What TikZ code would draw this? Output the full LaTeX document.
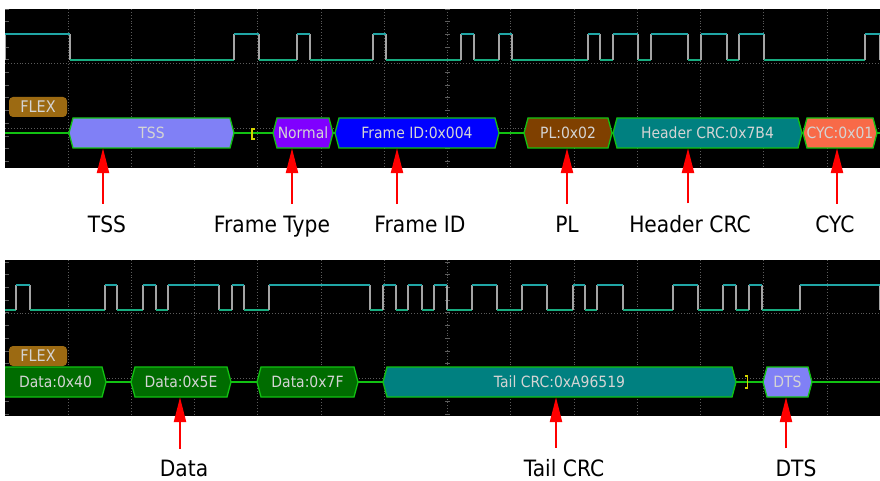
\documentclass[tikz,border=0pt]{standalone}
\usepackage{fontspec}
\setmainfont[FakeStretch=0.9]{DejaVu Sans}
\usetikzlibrary{arrows.meta}
\definecolor{gridgray}{HTML}{5C5C5C}
\definecolor{busgreen}{HTML}{12C212}
\definecolor{trhigh}{HTML}{20A6A6}
\definecolor{trlow}{HTML}{18AC80}
\definecolor{edgegray}{HTML}{A4A4A4}
\definecolor{flexbrown}{HTML}{9C6A12}
\definecolor{pkttext}{HTML}{D4D4D4}
\definecolor{tsspurple}{HTML}{8080F6}
\definecolor{normviolet}{HTML}{8000FF}
\definecolor{idblue}{HTML}{0000FF}
\definecolor{plbrown}{HTML}{7F4000}
\definecolor{crcteal}{HTML}{008080}
\definecolor{cyccoral}{HTML}{F86A48}
\definecolor{datagreen}{HTML}{006C00}
\definecolor{brkyellow}{HTML}{D4D400}

% hexagonal decoded packet: name, left x, right x, bus y, fill, text
\newcommand{\pkt}[6]{%
  \draw[pktedge,fill=#5] (#2,#4) -- (#2+4,#4-15) -- (#3-4,#4-15)
    -- (#3,#4) -- (#3-4,#4+15) -- (#2+4,#4+15) -- cycle;
  \node[pktbox,minimum width=#3-#2] (#1) at ({(#2+#3)/2},#4) {#6};
}

\begin{document}
\begin{tikzpicture}[
  x=1pt,y=-1pt,
  gridln/.style={gridgray,dotted,line width=0.9pt},
  tick/.style={gridgray,line width=0.8pt},
  trhi/.style={trhigh,line width=1.5pt},
  trlo/.style={trlow,line width=1.5pt},
  tredge/.style={edgegray,line width=1.3pt},
  bus/.style={busgreen,line width=1.4pt},
  pktedge/.style={busgreen,line width=1.3pt},
  pktbox/.style={minimum height=30pt,inner sep=0pt,text=pkttext,
    font=\fontsize{15.5}{18}\selectfont},
  flextag/.style={fill=flexbrown,rounded corners=4pt,minimum width=58pt,
    minimum height=20pt,inner sep=0pt,text=pkttext,font=\fontsize{16}{18}\selectfont},
  brk/.style={brkyellow,line width=1.3pt},
  lbl/.style={anchor=base,inner sep=0pt,outer ysep=11.5pt,
    font=\fontsize{22.5}{27}\selectfont},
  redarr/.style={-{Triangle[length=25pt,width=12pt]},line width=2.3pt,red}
]
\useasboundingbox[fill=white] (0,0) rectangle (880,481);

% top screen
\fill[black] (5,9) rectangle (880,168);
\begin{scope}
\clip (5,9) rectangle (880,168);
\foreach \k in {0,...,12}
  \draw[gridln] ({68+63.25*\k},9) -- ({68+63.25*\k},168);
\draw[gridln] (5,63) -- (880,63) (5,128) -- (880,128);
\foreach \k in {0,...,12} {
  \draw[tick] (5,{9+12.7*\k}) -- (9,{9+12.7*\k});
  \draw[tick] (445,{9+12.7*\k}) -- (450,{9+12.7*\k});
}
\foreach \a/\b [remember=\b as \lastb (initially 5)] in
  {5/70,234/259,297/310,373/386,461/474,499/512,588/600,613/638,
   651/688,701/727,739/764,865/880} {
  \draw[trlo] (\lastb,60) -- (\a,60);
  \draw[tredge] (\a,60) -- (\a,34) (\b,34) -- (\b,60);
  \draw[trhi] (\a,34) -- (\b,34);
}
\draw[bus] (5,133) -- (880,133);
\draw[brk] (254.5,129) -- (252,129) -- (252,139) -- (254.5,139);
\pkt{tss}{69}{234}{133}{tsspurple}{TSS}
\pkt{normal}{273}{333}{133}{normviolet}{Normal}
\pkt{frameid}{335}{499}{133}{idblue}{Frame ID:0x004}
\pkt{pl}{524}{612}{133}{plbrown}{PL:0x02}
\pkt{hcrc}{613}{802}{133}{crcteal}{Header CRC:0x7B4}
\pkt{cyc}{803}{877}{133}{cyccoral}{CYC:0x01}
\end{scope}
\node[flextag] (flexA) at (38,107) {FLEX};

% bottom screen
\fill[black] (5,260) rectangle (880,416);
\begin{scope}
\clip (5,260) rectangle (880,416);
\foreach \k in {0,...,12}
  \draw[gridln] ({68+63.25*\k},260) -- ({68+63.25*\k},416);
\draw[gridln] (5,313) -- (880,313) (5,378) -- (880,378);
\foreach \k in {0,...,12} {
  \draw[tick] (5,{262+12.7*\k}) -- (9,{262+12.7*\k});
  \draw[tick] (445,{262+12.7*\k}) -- (450,{262+12.7*\k});
}
\foreach \a/\b [remember=\b as \lastb (initially 5)] in
  {16/30,105/117,143/156,168/219,232/244,269/370,383/396,408/422,
   434/447,472/497,522/547,573/585,597/623,673/698,723/736,749/762,800/880} {
  \draw[trlo] (\lastb,310) -- (\a,310);
  \draw[tredge] (\a,310) -- (\a,285) (\b,285) -- (\b,310);
  \draw[trhi] (\a,285) -- (\b,285);
}
\draw[bus] (5,382) -- (880,382);
\draw[brk] (745,376) -- (747.5,376) -- (747.5,388) -- (745,388);
\pkt{d40}{1}{106}{382}{datagreen}{\hspace*{4pt}Data:0x40}
\pkt{d5e}{131}{231}{382}{datagreen}{Data:0x5E}
\pkt{d7f}{257}{358}{382}{datagreen}{Data:0x7F}
\pkt{tcrc}{383}{736}{382}{crcteal}{Tail CRC:0xA96519}
\pkt{dts}{763}{812}{382}{tsspurple}{DTS}
\end{scope}
\node[flextag] (flexB) at (38,356) {FLEX};

% field labels
\node[lbl] (lTSS) at (107,232) {TSS};
\node[lbl] (lType) at (272,232) {Frame Type};
\node[lbl] (lID) at (420,232) {Frame ID};
\node[lbl] (lPL) at (567,232) {PL};
\node[lbl] (lHCRC) at (690,232) {Header CRC};
\node[lbl] (lCYC) at (835,232) {CYC};
\node[lbl] (lData) at (184,476.5) {Data};
\node[lbl] (lTCRC) at (564,476.5) {Tail CRC};
\node[lbl] (lDTS) at (796,476.5) {DTS};

\coordinate (xTSS) at (103,0);
\coordinate (xType) at (292,0);
\coordinate (xID) at (397,0);
\coordinate (xPL) at (567,0);
\coordinate (xHCRC) at (688,0);
\coordinate (xCYC) at (837,0);
\coordinate (xData) at (180,0);
\coordinate (xTCRC) at (556,0);
\coordinate (xDTS) at (786,0);

\draw[redarr] (lTSS.north -| xTSS) -- (xTSS |- tss.south);
\draw[redarr] (lType.north -| xType) -- (xType |- normal.south);
\draw[redarr] (lID.north -| xID) -- (xID |- frameid.south);
\draw[redarr] (lPL.north -| xPL) -- (xPL |- pl.south);
\draw[redarr] (lHCRC.north -| xHCRC) -- (xHCRC |- hcrc.south);
\draw[redarr] (lCYC.north -| xCYC) -- (xCYC |- cyc.south);
\draw[redarr] (lData.north -| xData) -- (xData |- d5e.south);
\draw[redarr] (lTCRC.north -| xTCRC) -- (xTCRC |- tcrc.south);
\draw[redarr] (lDTS.north -| xDTS) -- (xDTS |- dts.south);
\end{tikzpicture}
\end{document}
